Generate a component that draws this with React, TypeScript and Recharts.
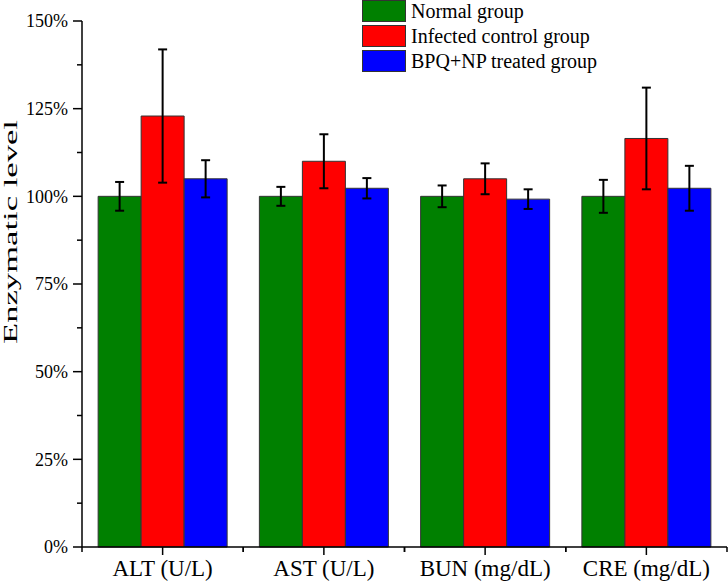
import React from "react";
import { BarChart, Bar, XAxis, YAxis, ErrorBar } from "recharts";

// categories and series (percent of normal)
const categories = ["ALT (U/L)", "AST (U/L)", "BUN (mg/dL)", "CRE (mg/dL)"];
const normalGroup = [100, 100, 100, 100];
const normalErr = [4.1, 2.7, 3.1, 4.7];
const infectedGroup = [122.9, 110.0, 105.0, 116.5];
const infectedErr = [19.0, 7.7, 4.4, 14.5];
const treatedGroup = [105.0, 102.3, 99.2, 102.3];
const treatedErr = [5.3, 2.9, 2.8, 6.4];
const yTicks = [0, 12.5, 25, 37.5, 50, 62.5, 75, 87.5, 100, 112.5, 125, 137.5, 150];

const series = [
  { key: "normal", err: "normalErr", name: "Normal group", color: "#008000" },
  { key: "infected", err: "infectedErr", name: "Infected control group", color: "#ff0000" },
  { key: "treated", err: "treatedErr", name: "BPQ+NP treated group", color: "#0000ff" },
];

const data = categories.map((c, i) => ({
  category: c,
  normal: normalGroup[i],
  normalErr: normalErr[i],
  infected: infectedGroup[i],
  infectedErr: infectedErr[i],
  treated: treatedGroup[i],
  treatedErr: treatedErr[i],
}));

const W = 728;
const H = 584;
const AXIS_W = 82;
const RIGHT = 1;
const FONT = "'Liberation Serif', 'Times New Roman', serif";
const band = (W - AXIS_W - RIGHT) / categories.length;

function XTick(props: any) {
  const { x, y, payload } = props;
  return (
    <g>
      <line x1={x} y1={y} x2={x} y2={y + 8} stroke="#000" strokeWidth={1.5} />
      <line x1={x - band / 2} y1={y} x2={x - band / 2} y2={y + 5} stroke="#000" strokeWidth={1.5} />
      <line x1={x + band / 2} y1={y} x2={x + band / 2} y2={y + 5} stroke="#000" strokeWidth={1.5} />
      <text x={x} y={y + 29} textAnchor="middle" fontSize={23} fontFamily={FONT} fill="#000">
        {payload.value}
      </text>
    </g>
  );
}

function YTick(props: any) {
  const { x, y, payload } = props;
  const major = payload.value % 25 === 0;
  return (
    <g>
      <line x1={x - (major ? 9 : 5)} y1={y} x2={x} y2={y} stroke="#000" strokeWidth={1.5} />
      {major && (
        <text x={x - 14} y={y} dy="0.35em" textAnchor="end" fontSize={18} fontFamily={FONT} fill="#000">
          {`${payload.value}%`}
        </text>
      )}
    </g>
  );
}

function Legend() {
  return (
    <div style={{ position: "absolute", left: 362, top: 0, fontFamily: FONT, fontSize: 20 }}>
      {series.map((s) => (
        <div key={s.key} style={{ display: "flex", alignItems: "center", height: 22, marginBottom: 3 }}>
          <div style={{ width: 42, height: 20, background: s.color, border: "1px solid #333" }} />
          <span style={{ marginLeft: 5, lineHeight: "22px", color: "#000" }}>{s.name}</span>
        </div>
      ))}
    </div>
  );
}

function YLabel() {
  return (
    <svg width={30} height={H} style={{ position: "absolute", left: 0, top: 0 }}>
      <text
        x={17}
        y={232}
        transform="rotate(-90, 17, 232)"
        textAnchor="middle"
        fontSize={18}
        fontFamily={FONT}
        fill="#000"
        textLength={224}
        lengthAdjust="spacingAndGlyphs"
      >
        Enzymatic level
      </text>
    </svg>
  );
}

export default function App() {
  return (
    <div style={{ position: "absolute", left: 0, top: 0, width: W, height: H, background: "#fff" }}>
      <BarChart
        width={W}
        height={H}
        data={data}
        margin={{ top: 21, right: RIGHT, left: 0, bottom: 0 }}
        barCategoryGap="10%"
        barGap={0}
      >
        <XAxis
          dataKey="category"
          height={37}
          tickLine={false}
          tickSize={0}
          tickMargin={0}
          axisLine={{ stroke: "#000", strokeWidth: 1.5 }}
          tick={<XTick />}
          interval={0}
        />
        <YAxis
          width={AXIS_W}
          domain={[0, 150]}
          ticks={yTicks}
          interval={0}
          tickLine={false}
          tickSize={0}
          tickMargin={0}
          axisLine={{ stroke: "#000", strokeWidth: 1.5 }}
          tick={<YTick />}
        />
        {series.map((s) => (
          <Bar
            key={s.key}
            dataKey={s.key}
            name={s.name}
            fill={s.color}
            stroke="#333"
            strokeWidth={1}
            isAnimationActive={false}
          >
            <ErrorBar dataKey={s.err} width={4.5} stroke="#000" strokeWidth={2} />
          </Bar>
        ))}
      </BarChart>
      <YLabel />
      <Legend />
    </div>
  );
}
